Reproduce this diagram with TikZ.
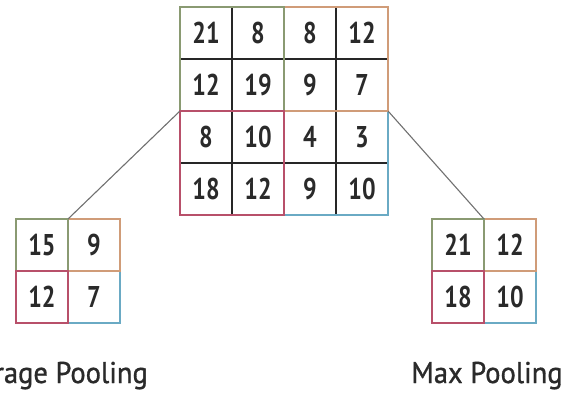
\documentclass[tikz,border=0pt]{standalone}
\usepackage{fontspec}
\setmainfont{PT Sans}
\newfontfamily\numfont[FakeStretch=0.8]{PT Sans}
\newfontfamily\capfont[FakeStretch=0.95,FakeBold=1]{PT Sans}
\definecolor{qgreen}{HTML}{8A9A72}
\definecolor{qorange}{HTML}{D09C78}
\definecolor{qred}{HTML}{B8506A}
\definecolor{qblue}{HTML}{6AAAC4}
\definecolor{txt}{HTML}{2A2A2A}
\definecolor{conn}{HTML}{707070}
\begin{document}
\begin{tikzpicture}[x=1pt,y=-1pt,
  cell/.style={minimum size=52pt, inner sep=0pt, text=txt, font=\numfont\bfseries\fontsize{30}{30}\selectfont},
  gridline/.style={line width=2pt, black!85},
  quad/.style={line width=2pt},
  connector/.style={line width=1.1pt, conn},
  caption/.style={text=txt, font=\capfont\fontsize{30}{30}\selectfont, inner sep=0pt}]
\useasboundingbox (0,0) rectangle (576,396);
\clip (0,0) rectangle (576,396);
% big grid cells
\foreach \r/\vals in {1/{21,8,8,12},2/{12,19,9,7},3/{8,10,4,3},4/{18,12,9,10}}{
  \foreach \v [count=\c] in \vals {
    \node[cell] (b\r\c) at ({180+52*(\c-1)+26},{7+52*(\r-1)+26}) {\v};
  }
}
% inner black lines
\draw[gridline] (b11.north east) -- (b41.south east);
\draw[gridline] (b13.north east) -- (b43.south east);
\draw[gridline] (b11.south west) -- (b14.south east);
\draw[gridline] (b31.south west) -- (b34.south east);
% coloured quadrants
\draw[quad,qblue] (b33.north west) rectangle (b44.south east);
\draw[quad,qorange] (b13.north west) rectangle (b24.south east);
\draw[quad,qgreen] (b11.north west) rectangle (b22.south east);
\draw[quad,qred] (b31.north west) rectangle (b42.south east);
% average pooling grid
\node[cell] (l11) at (42,245) {15};
\node[cell] (l12) at (94,245) {9};
\node[cell] (l21) at (42,297) {12};
\node[cell] (l22) at (94,297) {7};
\draw[quad,qblue] (l22.north west) rectangle (l22.south east);
\draw[quad,qorange] (l12.north west) rectangle (l12.south east);
\draw[quad,qgreen] (l11.north west) rectangle (l11.south east);
\draw[quad,qred] (l21.north west) rectangle (l21.south east);
% max pooling grid
\node[cell] (r11) at (458,245) {21};
\node[cell] (r12) at (510,245) {12};
\node[cell] (r21) at (458,297) {18};
\node[cell] (r22) at (510,297) {10};
\draw[quad,qblue] (r22.north west) rectangle (r22.south east);
\draw[quad,qorange] (r12.north west) rectangle (r12.south east);
\draw[quad,qgreen] (r11.north west) rectangle (r11.south east);
\draw[quad,qred] (r21.north west) rectangle (r21.south east);
% connectors
\draw[connector] (l11.north east) -- (b21.south west);
\draw[connector] (r12.north west) -- (b24.south east);
% captions
\node[caption, anchor=base east] (avg) at (148,383) {Average Pooling};
\node[caption, anchor=base] (max) at (487,383) {Max Pooling};
\end{tikzpicture}
\end{document}
